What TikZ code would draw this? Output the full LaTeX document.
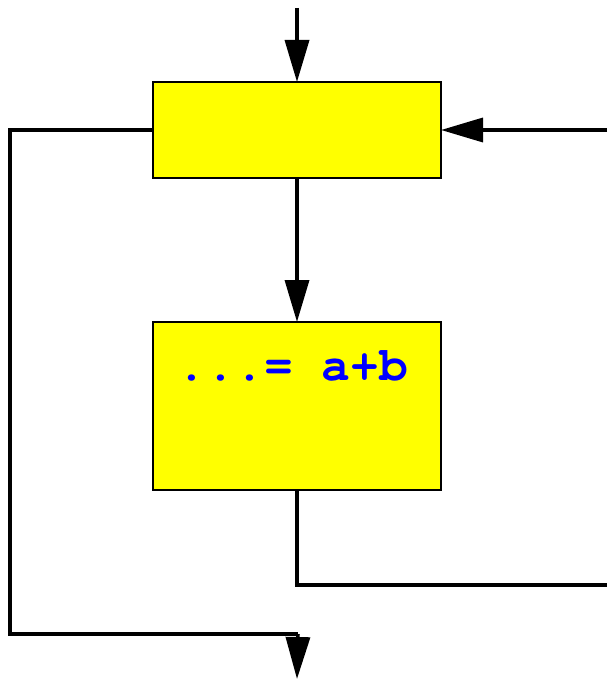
\documentclass[tikz,border=0pt]{standalone}
\usepackage[T1]{fontenc}
\usepackage{courier}
\usetikzlibrary{arrows.meta}
\definecolor{boxyellow}{RGB}{255,255,0}
\definecolor{codeblue}{RGB}{0,0,255}
\begin{document}
\begin{tikzpicture}[x=1pt,y=-1pt,
  block/.style={draw=black, line width=2pt, fill=boxyellow, minimum width=288pt,
    inner sep=0pt, outer sep=0pt, anchor=north west},
  flow/.style={line width=3.5pt},
  arr/.style={flow, -{Triangle[length=42pt,width=24pt]}},
  code/.style={text=codeblue, font=\ttfamily\bfseries\fontsize{48}{50}\selectfont,
    inner sep=0pt, anchor=base west}]
\useasboundingbox (0,0) rectangle (607,679);

% the two blocks
\node[block, minimum height=96pt]  (loop) at (153,82)  {};
\node[block, minimum height=168pt] (body) at (153,322) {};
\node[code] (expr) at (177.5,380.5) {...= a+b};

% free ends of the connectors
\coordinate (entry)   at (297,8);
\coordinate (back)    at (607,130);
\coordinate (ret)     at (607,585);
\coordinate (leftcol) at (10,634);
\coordinate (outturn) at (298,634);
\coordinate (exit)    at (297,679);

% flow lines
\draw[arr] (entry) -- (loop.north);
\draw[arr] (back) -- (loop.east);
\draw[arr] (loop.south) -- (body.north);
\draw[flow] (body.south) |- (ret);
\draw[flow] (loop.west) -| (leftcol) -- (outturn);
\draw[arr] (outturn) -- (exit);
\end{tikzpicture}
\end{document}
